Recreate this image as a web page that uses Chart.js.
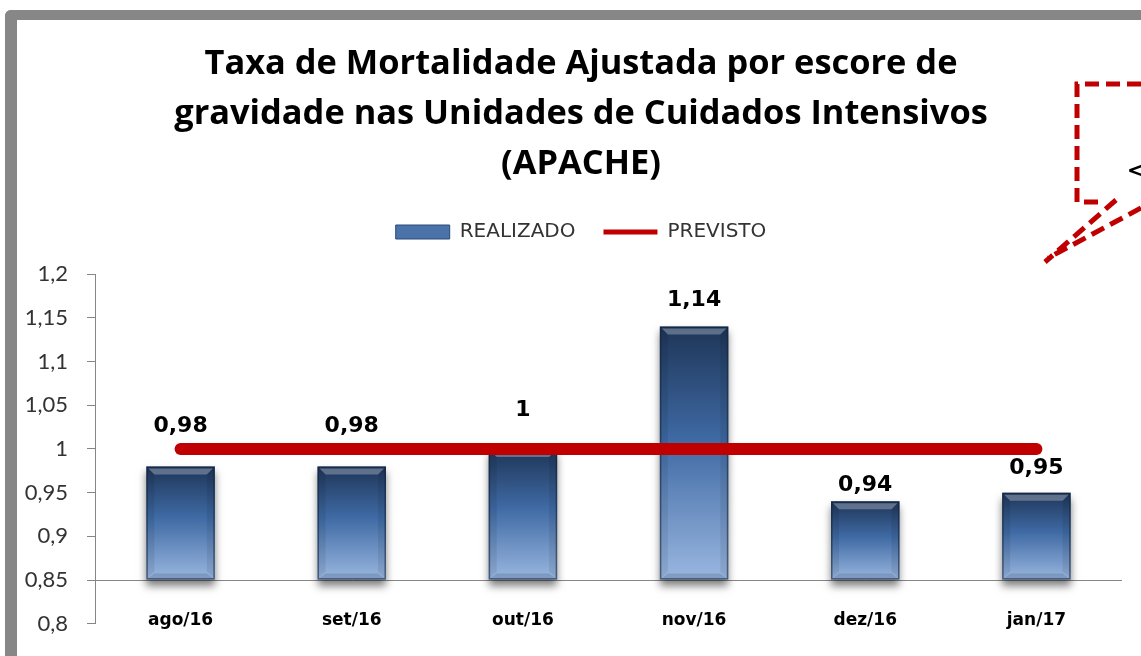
<!DOCTYPE html>
<html>
<head>
<meta charset="utf-8">
<script src="https://cdn.jsdelivr.net/npm/chart.js@4.4.1/dist/chart.umd.min.js"></script>
<style>
  html, body { margin: 0; padding: 0; background: #fff; overflow: hidden; }
  #wrap { position: relative; width: 1141px; height: 656px; }
  #frame { position: absolute; left: 5px; top: 10px; width: 1200px; height: 700px;
           border-top: 10px solid #878787; border-left: 12px solid #878787;
           border-top-left-radius: 6px; }
  #box { position: absolute; left: 0; top: 0; width: 1141px; height: 656px; }
  #callout { position: absolute; left: 0; top: 0; }
</style>
</head>
<body>
<div id="wrap">
  <div id="frame"></div>
  <div id="box"><canvas id="apache"></canvas></div>
  <svg id="callout" width="1141" height="656">
    <g fill="none" stroke="#c00000" stroke-width="5" stroke-dasharray="14 7">
      <path d="M1141 84 L1077 84 L1077 202 L1104 202"/>
      <path d="M1116 200 L1045 262"/>
      <path d="M1141 208 L1048 258"/>
    </g>
    <text x="1126" y="180" font-family="DejaVu Sans" font-size="30" fill="#000">&lt;</text>
  </svg>
</div>
<script>
// dados do gráfico
const meses = ['ago/16', 'set/16', 'out/16', 'nov/16', 'dez/16', 'jan/17'];
const realizado = [0.98, 0.98, 1, 1.14, 0.94, 0.95];
const previsto = [1, 1, 1, 1, 1, 1];
const yTicks = [0.8, 0.85, 0.9, 0.95, 1, 1.05, 1.1, 1.15, 1.2];
const baseValor = 0.85;
// deslocamento (px) do rótulo acima de cada barra
const elevRotulo = [40, 40, 39, 26, 16, 24];

const fmt = v => String(+v.toFixed(2)).replace('.', ',');

function barFill(ctx) {
  const chart = ctx.chart;
  if (!chart.chartArea || ctx.type !== 'data') return '#3b68a3';
  const y = chart.scales.y;
  const top = y.getPixelForValue(ctx.parsed.y);
  const bottom = y.getPixelForValue(baseValor);
  const g = chart.ctx.createLinearGradient(0, top, 0, bottom);
  g.addColorStop(0, '#1e3557');
  g.addColorStop(0.45, '#3f6aa4');
  g.addColorStop(1, '#9ab7e0');
  return g;
}

// sombra e chanfro das barras, rótulos de dados
const barEffects = {
  id: 'barEffects',
  beforeInit(chart) {
    const fit = chart.legend.fit;
    chart.legend.fit = function() { fit.call(this); this.height += 22; };
  },
  afterLayout(chart) {
    // rótulos do eixo y podem sair da caixa do eixo
    chart.scales.y._computeLabelArea = () => undefined;
  },
  beforeDatasetDraw(chart, args) {
    if (args.meta.type !== 'bar') return;
    const c = chart.ctx;
    c.save();
    c.shadowColor = 'rgba(0,0,0,0.5)';
    c.shadowBlur = 8;
    c.shadowOffsetY = 6;
  },
  afterDatasetDraw(chart, args) {
    if (args.meta.type !== 'bar') return;
    const c = chart.ctx;
    c.restore();
    const b = 8;
    args.meta.data.forEach(el => {
      const l = el.x - el.width / 2, r = el.x + el.width / 2;
      const t = el.y, btm = el.base;
      c.save();
      c.fillStyle = 'rgba(255,255,255,0.28)';
      c.beginPath();
      c.moveTo(l + 2, t + 2); c.lineTo(r - 2, t + 2); c.lineTo(r - b, t + b); c.lineTo(l + b, t + b);
      c.closePath(); c.fill();
      c.fillStyle = 'rgba(90,110,140,0.35)';
      c.beginPath();
      c.moveTo(l, btm); c.lineTo(r, btm); c.lineTo(r - b, btm - b + 2); c.lineTo(l + b, btm - b + 2);
      c.closePath(); c.fill();
      c.fillStyle = 'rgba(0,0,0,0.08)';
      c.beginPath();
      c.moveTo(l, t); c.lineTo(l + b, t + b); c.lineTo(l + b, btm - b); c.lineTo(l, btm);
      c.closePath(); c.fill();
      c.beginPath();
      c.moveTo(r, t); c.lineTo(r - b, t + b); c.lineTo(r - b, btm - b); c.lineTo(r, btm);
      c.closePath(); c.fill();
      c.strokeStyle = 'rgba(15,32,58,0.55)';
      c.lineWidth = 1.5;
      c.strokeRect(l + 0.75, t + 0.75, el.width - 1.5, btm - t - 1.5);
      c.restore();
    });
  },
  afterDatasetsDraw(chart) {
    const c = chart.ctx;
    const meta = chart.getDatasetMeta(0);
    c.save();
    c.font = 'bold 22px "DejaVu Sans"';
    c.fillStyle = '#000';
    c.textAlign = 'center';
    c.textBaseline = 'middle';
    meta.data.forEach((el, i) => {
      c.fillText(fmt(realizado[i]), el.x, el.y - elevRotulo[i]);
    });
    c.restore();
  }
};

new Chart(document.getElementById('apache'), {
  type: 'bar',
  data: {
    labels: meses,
    datasets: [{
      label: 'REALIZADO',
      data: realizado,
      base: baseValor,
      backgroundColor: barFill,
      borderWidth: 0,
      barPercentage: 0.4,
      categoryPercentage: 1,
      order: 1
    }, {
      type: 'line',
      label: 'PREVISTO',
      data: previsto,
      borderColor: '#c00000',
      backgroundColor: '#c00000',
      borderWidth: 12,
      borderCapStyle: 'round',
      pointRadius: 0,
      order: 0
    }]
  },
  options: {
    responsive: true,
    maintainAspectRatio: false,
    animation: false,
    layout: { padding: { left: 40, right: 19, top: 0, bottom: 25 } },
    scales: {
      x: {
        grid: { display: false },
        border: { display: false },
        ticks: {
          mirror: true,
          padding: -7,
          color: '#000',
          font: { family: 'DejaVu Sans', size: 17, weight: 'bold' }
        }
      },
      y: {
        min: 0.8,
        max: 1.2,
        afterBuildTicks: s => { s.ticks = yTicks.map(v => ({ value: v })); },
        afterFit: s => { s.width = 55; },
        border: { display: true, color: '#868686', width: 1 },
        grid: {
          color: c => (c.tick && c.tick.value === baseValor) ? '#868686' : 'rgba(0,0,0,0)',
          tickColor: '#868686',
          tickLength: 8
        },
        ticks: {
          padding: 19,
          color: '#333',
          font: { family: 'Lato', size: 22 },
          callback: v => fmt(v)
        }
      }
    },
    plugins: {
      title: {
        display: true,
        text: ['Taxa de Mortalidade Ajustada por escore de',
               'gravidade nas Unidades de Cuidados Intensivos',
               '(APACHE)'],
        color: '#000',
        font: { family: 'Open Sans', size: 34.4, weight: 'bold', lineHeight: '50px' },
        padding: { top: 39, bottom: 5 }
      },
      legend: {
        position: 'top',
        labels: {
          usePointStyle: true,
          pointStyleWidth: 54,
          boxWidth: 54,
          boxHeight: 14,
          padding: 28,
          color: '#333',
          font: { family: 'DejaVu Sans', size: 20 },
          sort: (a, b) => a.datasetIndex - b.datasetIndex,
          generateLabels(chart) {
            const items = Chart.defaults.plugins.legend.labels.generateLabels(chart);
            items.forEach(it => {
              if (it.datasetIndex === 0) {
                it.pointStyle = 'rect';
                it.fillStyle = '#4a73aa';
                it.strokeStyle = '#2a4a78';
                it.lineWidth = 1;
              } else {
                it.pointStyle = 'line';
                it.strokeStyle = '#c00000';
                it.lineWidth = 5;
              }
            });
            return items;
          }
        }
      },
      tooltip: { enabled: false }
    }
  },
  plugins: [barEffects]
});
</script>
</body>
</html>
